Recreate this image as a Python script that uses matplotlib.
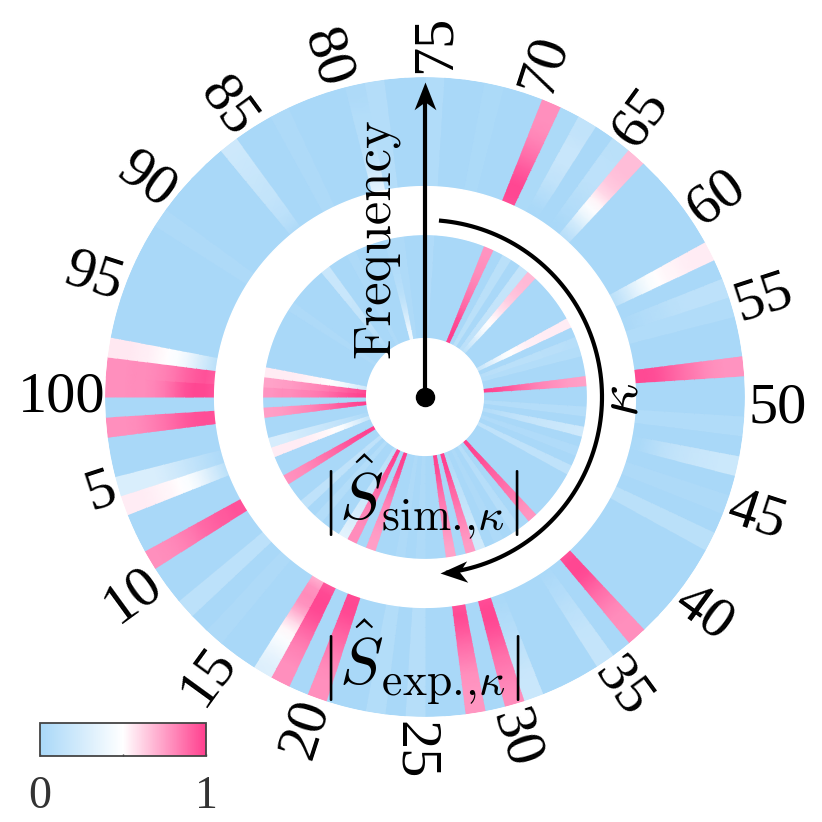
import numpy as np
import matplotlib
matplotlib.use("Agg")
import matplotlib.pyplot as plt
from matplotlib.colors import LinearSegmentedColormap
from matplotlib.path import Path
from matplotlib.transforms import Affine2D

plt.rcParams.update({"font.family": "cmr10", "mathtext.fontset": "cm",
                     "axes.unicode_minus": False, "axes.formatter.use_mathtext": True})

SIZE = 822
CENTER = (425, 397)

# radial rings, same unit as the image radius
OUTER_RING = (211, 320)
INNER_RING = (59, 162)

kappa = np.arange(1, 101)
tick_kappa = [5, 10, 15, 20, 25, 30, 35, 40, 45, 50, 55, 60, 65, 70, 75, 80, 85, 90, 95, 100]

# faint per-kappa level, all rows (kappas not listed sit at background_level)
background_level = 0.0
outer_faint = {75: 0.05, 49: 0.05, 45: 0.03, 43: 0.10, 55: 0.05, 25: 0.08, 23: 0.06,
               14: 0.03, 12: 0.11, 91: 0.03, 83: 0.03, 78: 0.07, 72: 0.02, 68: 0.02}
inner_faint = {75: 0.04, 67: 0.10, 49: 0.07, 45: 0.04, 43: 0.13, 55: 0.06, 35: 0.08,
               33: 0.03, 25: 0.03, 23: 0.03, 14: 0.06, 12: 0.13, 91: 0.03, 83: 0.03, 78: 0.03}

# wedges with a radial profile, 12 values from the inner edge to the outer edge
outer_profile = {
    69: [.96, .98, .98, .95, .92, .88, .85, .82, .80, .79, .79, .79],
    67: [.00, .02, .06, .10, .14, .16, .18, .18, .18, .16, .14, .14],
    65: [.00, .01, .04, .06, .08, .10, .12, .12, .12, .11, .10, .10],
    64: [.08, .15, .25, .38, .48, .53, .60, .64, .66, .67, .67, .67],
    58: [.10, .18, .28, .38, .46, .50, .52, .53, .54, .55, .55, .55],
    56: [.01, .03, .05, .07, .08, .10, .11, .12, .12, .12, .12, .12],
    52: [.97, .97, .96, .93, .90, .87, .84, .81, .79, .78, .78, .78],
    47: [.01, .02, .06, .10, .13, .15, .17, .18, .19, .20, .20, .20],
    37: [.95, .98, .98, .96, .92, .88, .85, .82, .80, .79, .79, .79],
    35: [.01, .03, .05, .07, .09, .11, .13, .15, .16, .16, .16, .16],
    31: [.01, .02, .04, .06, .08, .11, .13, .15, .18, .19, .19, .19],
    30: [.96, .98, .98, .96, .93, .90, .87, .85, .83, .81, .80, .80],
    28: [.95, .97, .95, .92, .88, .85, .82, .79, .78, .77, .77, .77],
    20: [.97, .98, .97, .94, .91, .88, .85, .82, .80, .79, .79, .79],
    18: [.93, .97, .98, .97, .94, .90, .86, .83, .81, .79, .79, .79],
    17: [.70, .78, .80, .78, .70, .60, .52, .48, .42, .36, .32, .30],
    9:  [.95, .95, .93, .92, .90, .88, .85, .83, .81, .80, .79, .79],
    6:  [.10, .20, .30, .40, .47, .50, .52, .53, .54, .55, .55, .55],
    5:  [.03, .06, .10, .14, .18, .22, .25, .28, .28, .28, .28, .28],
    2:  [.96, .96, .95, .93, .90, .87, .84, .82, .80, .79, .79, .79],
    100: [.95, .98, .98, .95, .90, .85, .82, .80, .80, .79, .79, .79],
    99: [.92, .95, .93, .90, .86, .83, .81, .80, .80, .79, .79, .79],
    98: [.10, .20, .30, .40, .47, .50, .52, .54, .55, .56, .56, .56],
    86: [.03, .08, .11, .13, .15, .16, .17, .18, .19, .20, .21, .21],
    79: [.35, .30, .22, .14, .10, .08, .07, .06, .06, .04, .03, .03],
}
inner_profile = {
    69: [1.0, 1.0, .98, .95, .90, .87, .84, .82, .80, .79, .78, .78],
    65: [.10, .12, .13, .14, .15, .16, .16, .16, .16, .16, .16, .16],
    64: [.10, .20, .30, .42, .50, .53, .58, .62, .65, .67, .68, .68],
    58: [.15, .25, .35, .45, .50, .52, .54, .54, .55, .55, .55, .55],
    56: [.08, .09, .10, .10, .10, .10, .10, .10, .09, .09, .08, .08],
    52: [1.0, .98, .95, .92, .88, .85, .82, .80, .78, .76, .75, .74],
    47: [.06, .08, .10, .12, .14, .16, .17, .18, .19, .20, .21, .22],
    37: [1.0, .99, .97, .95, .92, .90, .88, .86, .84, .80, .78, .77],
    31: [.03, .05, .07, .09, .11, .13, .15, .17, .19, .21, .23, .23],
    30: [1.0, .99, .97, .94, .90, .88, .85, .83, .80, .78, .76, .76],
    28: [1.0, .98, .96, .92, .88, .85, .83, .80, .78, .76, .74, .74],
    20: [1.0, .99, .97, .93, .89, .85, .82, .80, .78, .76, .75, .75],
    18: [1.0, .99, .97, .94, .91, .88, .85, .83, .81, .80, .80, .80],
    17: [.08, .10, .12, .14, .16, .18, .20, .23, .26, .28, .32, .34],
    9:  [1.0, .99, .97, .95, .92, .89, .87, .84, .82, .80, .79, .78],
    6:  [.15, .25, .35, .45, .50, .52, .53, .54, .55, .55, .55, .55],
    5:  [.03, .06, .10, .13, .16, .18, .20, .22, .24, .26, .26, .26],
    2:  [1.0, .98, .95, .92, .88, .85, .82, .80, .78, .76, .75, .75],
    100: [1.0, .98, .95, .92, .88, .85, .83, .82, .80, .80, .78, .78],
    99: [.98, .95, .92, .88, .85, .82, .80, .78, .76, .75, .74, .74],
    98: [.20, .30, .38, .45, .50, .52, .53, .54, .55, .55, .55, .55],
    86: [.02, .05, .08, .11, .13, .15, .16, .18, .18, .18, .18, .18],
    79: [.42, .40, .30, .22, .15, .10, .08, .06, .05, .03, .03, .03],
}

cmap = LinearSegmentedColormap.from_list(
    "blue_white_pink", ["#a9d8f8", "#ffffff", "#ff3f8e"], N=256)


def ring_matrix(faint, profile):
    """12 x 100 array, columns ordered clockwise from the top (kappa 75)."""
    mat = np.full((12, 100), background_level)
    for k in kappa:
        col = (75 - k) % 100
        if k in profile:
            mat[:, col] = profile[k]
        elif k in faint:
            mat[:, col] = faint[k]
    return mat


fig = plt.figure(figsize=(SIZE / 100, SIZE / 100), dpi=100)
r_max = OUTER_RING[1]
ax = fig.add_axes([(CENTER[0] - r_max) / SIZE, 1 - (CENTER[1] + r_max) / SIZE,
                   2 * r_max / SIZE, 2 * r_max / SIZE], projection="polar")
ax.set_theta_zero_location("N")
ax.set_theta_direction(-1)
ax.set_ylim(0, r_max)
ax.axis("off")

# each wedge is a column pair, so gouraud only blends along the radius
theta_nodes = np.radians(3.6 * np.repeat(np.arange(101), 2)[1:-1])
for ring, faint, profile in [(OUTER_RING, outer_faint, outer_profile),
                             (INNER_RING, inner_faint, inner_profile)]:
    r_nodes = np.linspace(ring[0], ring[1], 12)
    values = np.repeat(ring_matrix(faint, profile), 2, axis=1)
    ax.pcolormesh(theta_nodes, r_nodes, values, cmap=cmap, vmin=0, vmax=1, shading="gouraud")

# white hairlines smooth the stepped ring edges
full = np.radians(np.linspace(0, 360, 721))
for r in [OUTER_RING[0] - 0.6, OUTER_RING[1] + 0.6, INNER_RING[0] - 0.6, INNER_RING[1] + 0.6]:
    ax.plot(full, np.full_like(full, r), color="white", lw=1.0, clip_on=False, zorder=3)

# kappa tick labels, read radially around the ring
label_radius = {100: 363, 5: 338, 85: 351, 35: 351}
label_shift = {100: -1.8, 30: 1.5}
for k in tick_kappa:
    th = ((75 - k) % 100) * 3.6
    rot = 90 - th if th <= 180 else 270 - th
    mid = th + 1.8 + label_shift.get(k, 0)
    ax.text(np.radians(mid), label_radius.get(k, 353), str(k), fontsize=42,
            family="Liberation Serif", rotation=rot, rotation_mode="anchor",
            ha="center", va="center", color="black", clip_on=False)


def stealth_marker(angle):
    head = Path([(0, 0), (-11, -28), (0, -20), (11, -28), (0, 0)],
                [Path.MOVETO, Path.LINETO, Path.LINETO, Path.LINETO, Path.CLOSEPOLY])
    return head.transformed(Affine2D().rotate_deg(angle))


# frequency axis
ax.plot([0, 0], [0, 295], color="black", lw=3, clip_on=False, zorder=5, solid_capstyle="butt")
ax.plot([0], [315], marker=stealth_marker(0), ms=40, color="black", mew=0, clip_on=False, zorder=6)
ax.plot([0], [0], "o", ms=13, color="black", clip_on=False, zorder=6)

# kappa arc
arc = np.radians(np.linspace(5.2, 172.5, 200))
ax.plot(arc, np.full_like(arc, 177), color="black", lw=3, zorder=5)
ax.plot([np.radians(175.1)], [177], marker=stealth_marker(93), ms=40, color="black", mew=0, zorder=6)


def px_text(x, y, s, **kw):
    fig.text(x / SIZE, 1 - y / SIZE, s, ha="center", va="center", color="black", **kw)


px_text(376, 238, "Frequency", fontsize=38, rotation=90)
px_text(624, 400, r"$\kappa$", fontsize=42, rotation=90)
px_text(421, 497, r"$|\hat{S}_{\mathrm{sim}.\!{,}\kappa}|$", fontsize=47)
px_text(421, 662, r"$|\hat{S}_{\mathrm{exp}.\!{,}\kappa}|$", fontsize=47)

# colorbar
cax = fig.add_axes([40 / SIZE, 1 - 756 / SIZE, 166 / SIZE, 33 / SIZE])
cb = fig.colorbar(plt.cm.ScalarMappable(cmap=cmap, norm=plt.Normalize(0, 1)),
                  cax=cax, orientation="horizontal")
cb.set_ticks([0, 0.5, 1])
cb.set_ticklabels(["0", "", "1"])
cb.ax.tick_params(labelsize=33, length=1.5, width=1, direction="in", pad=14,
                  labelcolor="#333333", color="#333333")
for lab in cb.ax.get_xticklabels():
    lab.set_family("Liberation Serif")
cb.outline.set_edgecolor("#444444")
cb.outline.set_linewidth(1.3)

fig.savefig("out.png", dpi=100)
